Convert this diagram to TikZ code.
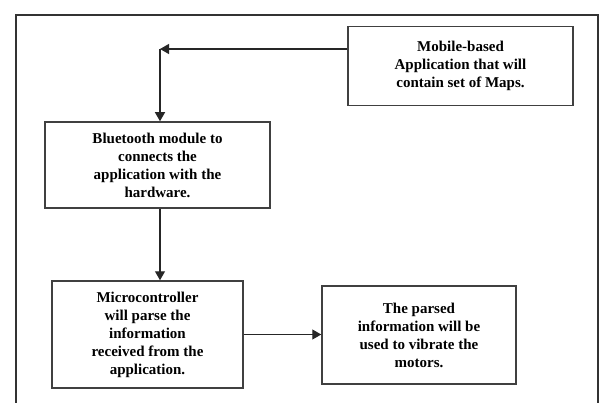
\documentclass[tikz,border=0pt]{standalone}
\usepackage{fontspec}
\setmainfont{Liberation Serif}
\usepackage{tikz}
\usetikzlibrary{positioning, arrows.meta}
\tikzset{%
	>={Triangle[length=9pt, width=10pt]},
	every edge/.append style={line width = 1.2pt, draw = black!85},
	frame/.style = {line width = 1.5pt, draw = black!80},
	blk/.style = {name = #1, draw = black!75, line width = 1.5pt, align = center, inner sep = 2pt,
		font = \bfseries\fontsize{15}{18}\selectfont}
}
\begin{document}
\begin{tikzpicture}[x=1pt, y=-1pt]
			\useasboundingbox (0,0) rectangle (604,403);
			\draw [frame] (16,403) -- (16,15) -- (598,15) -- (598,403);
			\node [blk = {mobile}, minimum width = 225pt, minimum height = 79pt] at (460.5,66) {Mobile-based\\Application that will\\contain set of Maps.};
			\node [blk = {bt}, minimum width = 225pt, minimum height = 86pt] at (157.5,165) {Bluetooth module to\\connects the\\application with the\\hardware.};
			\node [blk = {micro}, minimum width = 191pt, minimum height = 107pt] at (147.5,334.5) {Microcontroller\\will parse the\\information\\received from the\\application.};
			\node [blk = {parsed}, minimum width = 194pt, minimum height = 98pt] at (419,335) {The parsed\\information will be\\used to vibrate the\\motors.};
			\coordinate (bend) at (160,49);
			\path [->] (bend -| mobile.west) edge (bend);
			\path [->] (bend) edge (bend |- bt.north);
			\path [->] (bend |- bt.south) edge (bend |- micro.north);
			\path [->] (micro.east) edge (micro.east -| parsed.west);
\end{tikzpicture}
\end{document}
